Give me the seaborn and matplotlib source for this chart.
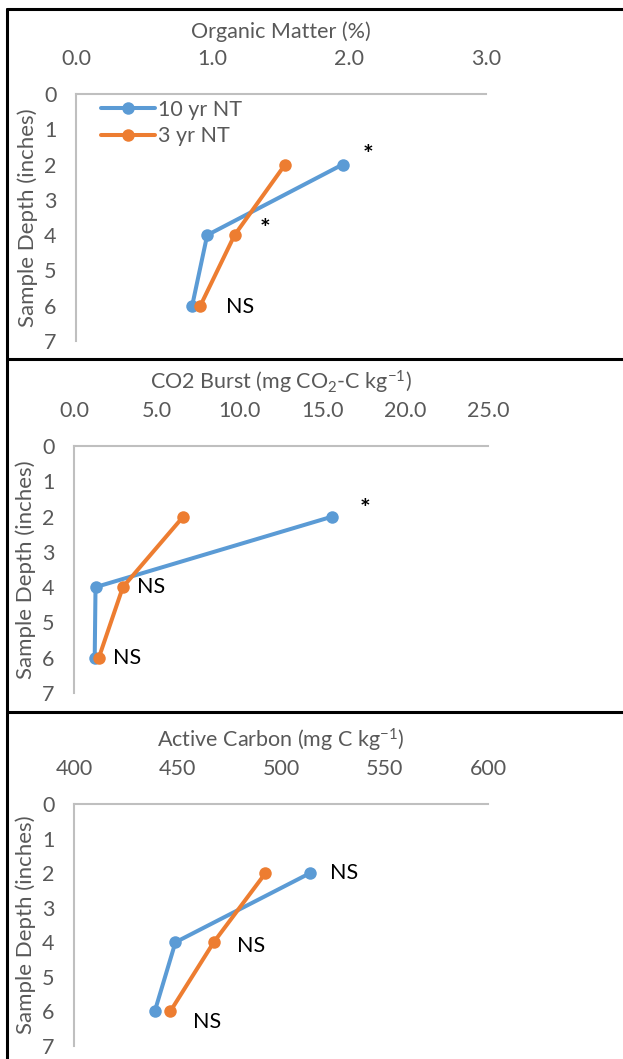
import pandas as pd
import matplotlib.pyplot as plt
import seaborn as sns
from matplotlib.lines import Line2D

# depths and values
depth = [2, 4, 6]
series_names = ["10 yr NT", "3 yr NT"]

om_10yr = [1.95, 0.96, 0.85]
om_3yr = [1.53, 1.16, 0.91]

co2_10yr = [15.6, 1.3, 1.25]
co2_3yr = [6.6, 2.95, 1.5]

ac_10yr = [514, 449, 439]
ac_3yr = [492.5, 467.5, 446.5]

titles = ["Organic Matter (%)",
          r"CO2 Burst (mg CO$_2$-C kg$^{\mathregular{-1}}$)",
          r"Active Carbon (mg C kg$^{\mathregular{-1}}$)"]
x_ticks = [[0.0, 1.0, 2.0, 3.0],
           [0.0, 5.0, 10.0, 15.0, 20.0, 25.0],
           [400, 450, 500, 550, 600]]
x_tick_labels = [["0.0", "1.0", "2.0", "3.0"],
                 ["0.0", "5.0", "10.0", "15.0", "20.0", "25.0"],
                 ["400", "450", "500", "550", "600"]]
y_ticks = [0, 1, 2, 3, 4, 5, 6, 7]

# significance notes (x, y, text)
notes = [
    [(2.14, 1.75, "*"), (1.38, 3.85, "*"), (1.2, 6.05, "NS")],
    [(17.6, 1.8, "*"), (4.65, 4.0, "NS"), (3.2, 6.0, "NS")],
    [(530.5, 2.0, "NS"), (485.5, 4.1, "NS"), (464.5, 6.3, "NS")],
]

palette = {"10 yr NT": "#5B9BD5", "3 yr NT": "#ED7D31"}

sns.set_style("white")
plt.rcParams['font.family'] = ['Lato', 'DejaVu Sans']
plt.rcParams['mathtext.fontset'] = 'custom'
plt.rcParams['mathtext.rm'] = 'Lato'
plt.rcParams['mathtext.it'] = 'Lato'

W, H = 623, 1059
fig = plt.figure(figsize=(W / 100, H / 100), dpi=100)

# axes boxes in pixels: left, right, top(y=0), bottom(y=7)
boxes = [(76, 486, 94, 341), (74, 488, 446, 693), (74, 488, 804, 1046)]
data = [(om_10yr, om_3yr), (co2_10yr, co2_3yr), (ac_10yr, ac_3yr)]
grey = "#595959"
fs = 15.5

for i in range(3):
    l, r, t, b = boxes[i]
    ax = fig.add_axes([l / W, 1 - b / H, (r - l) / W, (b - t) / H])
    df = pd.DataFrame({
        "value": list(data[i][0]) + list(data[i][1]),
        "depth": depth + depth,
        "series": [series_names[0]] * 3 + [series_names[1]] * 3,
    })
    sns.lineplot(data=df, x="value", y="depth", hue="series", palette=palette,
                 sort=False, estimator=None, marker="o", markersize=9,
                 markeredgewidth=0, linewidth=2.9, ax=ax, legend=False)
    ax.set_xlim(x_ticks[i][0], x_ticks[i][-1])
    ax.set_ylim(7, 0)
    ax.set_xticks(x_ticks[i])
    ax.set_xticklabels(x_tick_labels[i])
    ax.set_yticks(y_ticks)
    ax.xaxis.tick_top()
    ax.xaxis.set_label_position("top")
    ax.tick_params(axis="both", length=0, labelsize=fs, colors=grey)
    ax.tick_params(axis="x", pad=18)
    ax.tick_params(axis="y", pad=14)
    for s in ["right", "bottom"]:
        ax.spines[s].set_visible(False)
    for s in ["top", "left"]:
        ax.spines[s].set_color("#bfbfbf")
        ax.spines[s].set_linewidth(1.5)
    ax.set_xlabel(titles[i], fontsize=fs, color=grey, labelpad=8)
    ax.set_ylabel("Sample Depth (inches)", fontsize=fs + 0.5, color=grey, labelpad=4)
    for nx, ny, txt in notes[i]:
        ax.text(nx, ny, txt, fontsize=fs if txt == "NS" else 18,
                color="black", ha="center", va="center",
                fontweight="bold" if txt == "*" else "normal")
    ax.patch.set_alpha(0)
    if i == 0:
        handles = [Line2D([], [], color=palette[n], marker="o", markersize=9,
                          markeredgewidth=0, linewidth=2.9) for n in series_names]
        leg = ax.legend(handles, series_names, loc="upper left",
                        bbox_to_anchor=(0.04, 1.012), frameon=False, fontsize=fs,
                        handlelength=2.5, handletextpad=0.15, labelspacing=0.3,
                        borderaxespad=0)
        for tx in leg.get_texts():
            tx.set_color(grey)

# panel borders
border_kw = dict(color="black", linewidth=2.2, transform=fig.transFigure)
fig.add_artist(Line2D([7 / W, 1], [1 - 9 / H, 1 - 9 / H], **border_kw))
fig.add_artist(Line2D([7 / W, 7 / W], [0, 1 - 9 / H], **border_kw))
fig.add_artist(Line2D([7 / W, 1], [1 - 359 / H, 1 - 359 / H], **border_kw))
fig.add_artist(Line2D([7 / W, 1], [1 - 712 / H, 1 - 712 / H], **border_kw))

fig.savefig("out.png", dpi=100)
